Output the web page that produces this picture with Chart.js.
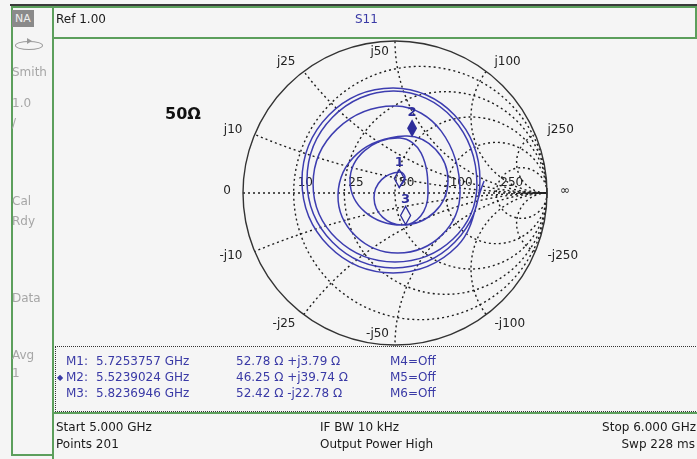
<!DOCTYPE html>
<html>
<head>
<meta charset="utf-8">
<script src="https://cdn.jsdelivr.net/npm/chart.js@4.4.0/dist/chart.umd.min.js"></script>
<style>
body { margin: 0; background: #f5f5f5; }
#page { position: relative; width: 697px; height: 459px; overflow: hidden; background: #f5f5f5; font-family: "DejaVu Sans", sans-serif; }
#chartBox { position: absolute; left: 0; top: 0; width: 697px; height: 459px; }
.ln { position: absolute; background: #5c9f5c; }
.t { position: absolute; font-size: 12px; line-height: 14px; white-space: pre; color: #1a1a1a; }
.side { color: #a6a6a6; left: 12px; }
.blue { color: #3a3aa6; }
#mbox { position: absolute; left: 55px; top: 346px; width: 650px; height: 64px; border: 1px dotted #333; border-right: none; }
</style>
</head>
<body>
<div id="page">
  <div id="chartBox"><canvas id="smith"></canvas></div>

  <div class="ln" style="left:10px;top:4px;width:687px;height:2px;background:#3a3a3a"></div>
  <div class="ln" style="left:11px;top:6px;width:686px;height:2px"></div>
  <div class="ln" style="left:11px;top:6px;width:2px;height:450px"></div>
  <div class="ln" style="left:52px;top:6px;width:2px;height:453px"></div>
  <div class="ln" style="left:11px;top:454px;width:43px;height:2px"></div>
  <div class="ln" style="left:52px;top:37px;width:645px;height:2px"></div>
  <div class="ln" style="left:695px;top:6px;width:2px;height:33px"></div>
  <div class="ln" style="left:52px;top:412px;width:645px;height:2px"></div>
  <div id="mbox"></div>

  <div class="t" style="left:12px;top:10px;width:22px;height:17px;line-height:17px;background:#8a8a8a;color:#eee;font-size:11px;text-align:center">NA</div>
  <div style="position:absolute;left:15px;top:41px;width:26px;height:7px;border:1px solid #9a9a9a;border-radius:50%"></div>
  <div style="position:absolute;left:27px;top:38px;width:0;height:0;border-top:3px solid transparent;border-bottom:3px solid transparent;border-left:5px solid #9a9a9a"></div>
  <div class="t side" style="top:65px">Smith</div>
  <div class="t side" style="top:96px">1.0</div>
  <div class="t side" style="top:116px">/</div>
  <div class="t side" style="top:194px">Cal</div>
  <div class="t side" style="top:214px">Rdy</div>
  <div class="t side" style="top:291px">Data</div>
  <div class="t side" style="top:348px">Avg</div>
  <div class="t side" style="top:366px">1</div>

  <div class="t" style="left:56px;top:12px">Ref 1.00</div>
  <div class="t blue" style="left:355px;top:12px">S11</div>
  <div class="t" style="left:165px;top:104px;font-size:16px;line-height:20px;font-weight:bold;color:#111">50Ω</div>

  <div id="rows"></div>

  <div class="t" style="left:56px;top:420px">Start 5.000 GHz</div>
  <div class="t" style="left:56px;top:437px">Points 201</div>
  <div class="t" style="left:320px;top:420px">IF BW 10 kHz</div>
  <div class="t" style="left:320px;top:437px">Output Power High</div>
  <div class="t" style="right:1px;top:420px">Stop 6.000 GHz</div>
  <div class="t" style="right:2px;top:437px">Swp 228 ms</div>
</div>
<script>
const gammaRe = [0.586, 0.410, -0.013, -0.436, -0.612, -0.436, -0.013, 0.391,
  0.559, 0.393, -0.007, -0.411, -0.579, -0.411, -0.007, 0.380,
  0.539, 0.382, 0.000, -0.382, -0.539, -0.380, 0.007, 0.304,
  0.428, 0.308, 0.020, -0.259, -0.375, -0.246, 0.066, 0.266,
  0.349, 0.260, 0.046, -0.196, -0.296, -0.200, 0.033, 0.172,
  0.217, 0.169, 0.053, -0.082, -0.138, -0.088, 0.033, 0.066, 0.026];
const gammaIm = [0.079, -0.349, -0.526, -0.349, 0.079, 0.512, 0.691, 0.513,
  0.086, -0.324, -0.493, -0.324, 0.086, 0.499, 0.671, 0.492,
  0.059, -0.303, -0.454, -0.303, 0.059, 0.422, 0.572, 0.407,
  0.007, -0.277, -0.395, -0.283, -0.013, 0.261, 0.375, 0.288,
  0.079, -0.126, -0.211, -0.126, 0.079, 0.279, 0.362, 0.262,
  -0.007, -0.151, -0.211, -0.159, -0.033, 0.088, 0.138, 0.099, 0.033];

// grid (normalised) and their labels in ohms
const resistanceCircles = [0.2, 0.5, 1, 2, 5];
const resistanceLabels = ['10', '25', '50', '100', '250'];
const reactanceArcs = [0.2, 0.5, 1, 2, 5];
const reactanceLabels = ['j10', 'j25', 'j50', 'j100', 'j250'];

// markers
const markerNames = ['1', '2', '3'];
const markerFreq = ['5.7253757', '5.5239024', '5.8236946'];
const markerR = [52.78, 46.25, 52.42];
const markerX = [3.79, 39.74, -22.78];
const offMarkers = ['M4=Off', 'M5=Off', 'M6=Off'];
const activeMarker = 1;
const z0 = 50;

const rows = document.getElementById('rows');
markerR.forEach((R, i) => {
  const top = 354 + i * 16;
  const X = markerX[i];
  const z = R.toFixed(2) + ' Ω ' + (X < 0 ? '-j' : '+j') + Math.abs(X).toFixed(2) + ' Ω';
  rows.innerHTML +=
    '<div class="t blue" style="left:66px;top:' + top + 'px">M' + markerNames[i] + ':</div>' +
    '<div class="t blue" style="left:96px;top:' + top + 'px">' + markerFreq[i] + ' GHz</div>' +
    '<div class="t blue" style="left:236px;top:' + top + 'px">' + z + '</div>' +
    '<div class="t blue" style="left:390px;top:' + top + 'px">' + offMarkers[i] + '</div>';
  if (i === activeMarker) {
    rows.innerHTML += '<div class="t blue" style="left:57px;top:' + (top + 1) + 'px;font-size:8px">◆</div>';
  }
});

const smithGrid = {
  id: 'smithGrid',
  beforeDatasetsDraw(chart) {
    const { ctx, scales: { x, y } } = chart;
    const cx = x.getPixelForValue(0), cy = y.getPixelForValue(0);
    const unit = x.getPixelForValue(1) - cx;
    ctx.save();
    ctx.beginPath();
    ctx.arc(cx, cy, unit, 0, Math.PI * 2);
    ctx.clip();
    ctx.strokeStyle = '#1e1e1e';
    ctx.lineWidth = 1.4;
    ctx.setLineDash([2, 3]);
    resistanceCircles.forEach(r => {
      ctx.beginPath();
      ctx.arc(x.getPixelForValue(r / (1 + r)), cy, unit / (1 + r), 0, Math.PI * 2);
      ctx.stroke();
    });
    reactanceArcs.forEach(v => {
      [v, -v].forEach(s => {
        ctx.beginPath();
        ctx.arc(x.getPixelForValue(1), y.getPixelForValue(1 / s), unit / v, 0, Math.PI * 2);
        ctx.stroke();
      });
    });
    ctx.beginPath();
    ctx.moveTo(x.getPixelForValue(-1), cy);
    ctx.lineTo(x.getPixelForValue(1), cy);
    ctx.stroke();
    ctx.restore();

    ctx.save();
    ctx.strokeStyle = '#333';
    ctx.lineWidth = 1.4;
    ctx.beginPath();
    ctx.arc(cx, cy, unit, 0, Math.PI * 2);
    ctx.stroke();
    ctx.beginPath();
    ctx.moveTo(x.getPixelForValue(1), cy - 5);
    ctx.lineTo(x.getPixelForValue(1), cy + 5);
    ctx.stroke();

    ctx.font = '12px "DejaVu Sans"';
    ctx.fillStyle = '#222';
    ctx.textBaseline = 'middle';
    ctx.textAlign = 'left';
    resistanceCircles.forEach((r, i) => {
      ctx.fillText(resistanceLabels[i], x.getPixelForValue((r - 1) / (r + 1)) + 4, cy - 10);
    });
    ctx.textAlign = 'center';
    reactanceArcs.forEach((v, i) => {
      [1, -1].forEach(s => {
        const txt = (s < 0 ? '-' : '') + reactanceLabels[i];
        const w = ctx.measureText(txt).width;
        const re = (v * v - 1) / (v * v + 1), im = s * 2 * v / (v * v + 1);
        let lx, ly;
        if (v === 1) {
          lx = cx - w / 2 - 6;
          ly = y.getPixelForValue(im * 0.93);
        } else {
          lx = x.getPixelForValue(re * 1.08) + Math.sign(re) * (w / 2 + 1);
          ly = y.getPixelForValue(im * 1.08);
        }
        ctx.fillText(txt, lx, ly);
      });
    });
    ctx.fillText('0', x.getPixelForValue(-1) - 16, cy - 2);
    ctx.fillText('∞', x.getPixelForValue(1) + 18, cy - 2);
    ctx.restore();
  },
  afterDatasetsDraw(chart) {
    const { ctx, scales: { x, y } } = chart;
    ctx.save();
    ctx.strokeStyle = '#2d2d9a';
    ctx.fillStyle = '#2d2d9a';
    ctx.lineWidth = 1.3;
    ctx.font = 'bold 13px "DejaVu Sans"';
    ctx.textAlign = 'center';
    ctx.textBaseline = 'middle';
    markerR.forEach((R, i) => {
      const r = R / z0, xx = markerX[i] / z0;
      const d = (r + 1) * (r + 1) + xx * xx;
      const mx = x.getPixelForValue((r * r + xx * xx - 1) / d);
      const my = y.getPixelForValue(2 * xx / d);
      ctx.beginPath();
      ctx.moveTo(mx, my);
      ctx.lineTo(mx + 5, my - 9);
      ctx.lineTo(mx, my - 18);
      ctx.lineTo(mx - 5, my - 9);
      ctx.closePath();
      if (i === activeMarker) ctx.fill(); else ctx.stroke();
      ctx.fillText(markerNames[i], mx, my - 25);
    });
    ctx.restore();
  }
};

new Chart(document.getElementById('smith'), {
  type: 'scatter',
  data: {
    datasets: [{
      label: 'S11',
      data: gammaRe.map((g, i) => ({ x: g, y: gammaIm[i] })),
      showLine: true,
      borderColor: '#3d3db0',
      borderWidth: 1.5,
      pointRadius: 0,
      tension: 0.38
    }]
  },
  options: {
    responsive: true,
    maintainAspectRatio: false,
    animation: false,
    layout: { padding: { left: 243, right: 150, top: 41, bottom: 114 } },
    plugins: { legend: { display: false }, tooltip: { enabled: false } },
    scales: {
      x: { type: 'linear', min: -1, max: 1, display: false },
      y: { type: 'linear', min: -1, max: 1, display: false }
    }
  },
  plugins: [smithGrid]
});
</script>
</body>
</html>
